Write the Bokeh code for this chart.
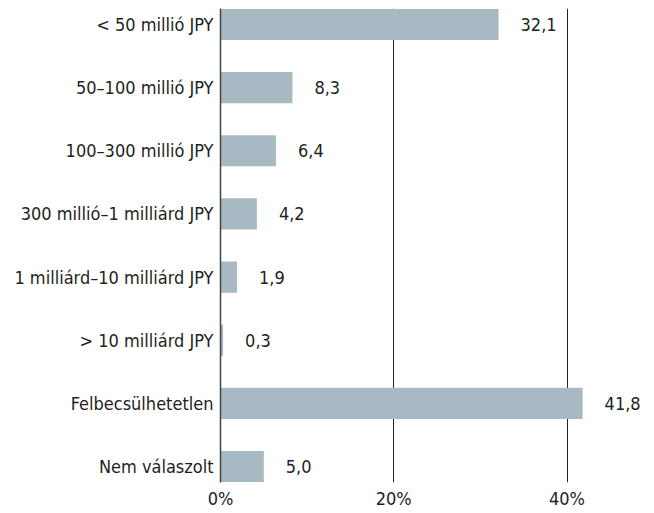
from bokeh.plotting import figure
from bokeh.models import Range1d, FixedTicker
from bokeh.core.properties import value
from bokeh.embed import file_html
from bokeh.resources import INLINE

categories = [
    "< 50 millió JPY",
    "50–100 millió JPY",
    "100–300 millió JPY",
    "300 millió–1 milliárd JPY",
    "1 milliárd–10 milliárd JPY",
    "> 10 milliárd JPY",
    "Felbecsülhetetlen",
    "Nem válaszolt",
]
values = [32.1, 8.3, 6.4, 4.2, 1.9, 0.3, 41.8, 5.0]
value_labels = ["32,1", "8,3", "6,4", "4,2", "1,9", "0,3", "41,8", "5,0"]
x_ticks = [0, 20, 40]
x_tick_labels = ["0%", "20%", "40%"]

FONT = "'Liberation Sans Narrow', 'DejaVu Sans Condensed', sans-serif"
FS = "18px"
TXT = "#231f20"
BAR = "#a7bac3"

n = len(categories)
ypos = list(range(n))
pad = 0.2535

p = figure(width=654, height=513, output_backend="svg", toolbar_location=None,
           x_range=Range1d(0, 50.1), y_range=Range1d(n - 1 + pad, -pad),
           min_border_left=220, min_border_top=8, min_border_right=0,
           min_border_bottom=31)
p.outline_line_color = None
p.background_fill_color = "white"
p.border_fill_color = "white"

p.hbar(y=ypos, right=values, left=0, height=2 * (0.5 - pad), color=BAR,
       line_color=None)

p.text(x=values, y=ypos, text=value_labels, x_offset=22, text_align="left",
       text_baseline="middle", text_font=value(FONT), text_font_size=FS,
       text_color=TXT)

# x axis
xa = p.xaxis[0]
xa.ticker = FixedTicker(ticks=x_ticks)
xa.major_label_overrides = {t: l for t, l in zip(x_ticks, x_tick_labels)}
xa.axis_line_color = None
xa.major_tick_line_color = None
xa.minor_tick_line_color = None
xa.major_tick_out = 0
xa.major_tick_in = 0
xa.minor_tick_out = 0
xa.major_label_standoff = 5
xa.major_label_text_font = FONT
xa.major_label_text_font_size = FS
xa.major_label_text_color = TXT

# y axis
ya = p.yaxis[0]
ya.ticker = FixedTicker(ticks=ypos)
ya.major_label_overrides = {i: c for i, c in zip(ypos, categories)}
ya.axis_line_color = "#444444"
ya.axis_line_width = 1.5
ya.major_tick_line_color = None
ya.minor_tick_line_color = None
ya.major_tick_out = 0
ya.major_tick_in = 0
ya.minor_tick_out = 0
ya.major_label_standoff = 7
ya.major_label_text_font = FONT
ya.major_label_text_font_size = FS
ya.major_label_text_color = TXT

p.xgrid.ticker = FixedTicker(ticks=x_ticks)
p.xgrid.grid_line_color = "#222222"
p.xgrid.grid_line_width = 1
p.ygrid.grid_line_color = None

open("out.html", "w").write(file_html(p, INLINE))
